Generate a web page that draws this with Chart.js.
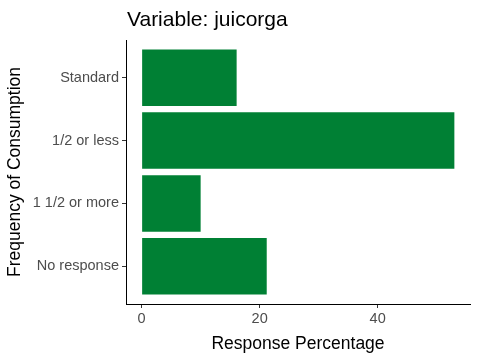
<!DOCTYPE html>
<html>
<head>
<meta charset="utf-8">
<script src="https://cdn.jsdelivr.net/npm/chart.js@4"></script>
<style>
  html, body { margin: 0; padding: 0; background: #fff; }
  #wrap { width: 480px; height: 360px; }
</style>
</head>
<body>
<div id="wrap"><canvas id="juicechart" width="480" height="360"></canvas></div>
<script>
var categories = ["Standard", "1/2 or less", "1 1/2 or more", "No response"];
var percentages = [16.1, 53.0, 10.0, 21.2];
var xTicks = [0, 20, 40];
var chartTitle = "Variable: juicorga";

Chart.defaults.font.family = "'Liberation Sans', Arial, sans-serif";
Chart.defaults.color = "#4d4d4d";

// ggplot-style title, left aligned with the plot panel
var titlePlugin = {
  id: "leftTitle",
  afterDraw: function (chart) {
    var ctx = chart.ctx;
    ctx.save();
    ctx.fillStyle = "#000";
    ctx.font = "21px 'Liberation Sans', Arial, sans-serif";
    ctx.textBaseline = "middle";
    ctx.textAlign = "left";
    ctx.fillText(chartTitle, chart.chartArea.left + 1, 20);
    ctx.restore();
  }
};

var barData = percentages.map(function (v, i) {
  return { x: v, y: i + 1 };
});

new Chart(document.getElementById("juicechart"), {
  type: "bar",
  data: {
    datasets: [{
      data: barData,
      backgroundColor: "rgb(0,128,52)",
      borderWidth: 0,
      categoryPercentage: 0.9,
      barPercentage: 1.0
    }]
  },
  options: {
    indexAxis: "y",
    responsive: false,
    animation: false,
    layout: { padding: { left: 5, right: 10, top: 40, bottom: 5 } },
    plugins: {
      legend: { display: false },
      tooltip: { enabled: false }
    },
    scales: {
      x: {
        type: "linear",
        min: -2.65,
        max: 55.65,
        afterBuildTicks: function (axis) {
          axis.ticks = xTicks.map(function (v) { return { value: v }; });
        },
        afterFit: function (axis) { axis.height = 51; },
        grid: { drawOnChartArea: false, drawTicks: true, tickLength: 4, color: "#333" },
        border: { display: true, color: "#000", width: 1 },
        ticks: { font: { size: 14.5 }, color: "#4d4d4d", padding: 2, maxRotation: 0 },
        title: {
          display: true,
          text: "Response Percentage",
          color: "#000",
          font: { size: 17.5 },
          padding: { top: 0, bottom: 0 }
        }
      },
      y: {
        type: "linear",
        reverse: true,
        offset: false,
        min: 0.4,
        max: 4.6,
        afterBuildTicks: function (axis) {
          axis.ticks = categories.map(function (c, i) { return { value: i + 1 }; });
        },
        afterFit: function (axis) { axis.width = 121; },
        grid: { offset: false, drawOnChartArea: false, drawTicks: true, tickLength: 4, color: "#333" },
        border: { display: true, color: "#000", width: 1 },
        ticks: {
          font: { size: 14.5 },
          color: "#4d4d4d",
          padding: 3,
          callback: function (v) { return categories[v - 1]; }
        },
        title: {
          display: true,
          text: "Frequency of Consumption",
          color: "#000",
          font: { size: 17.5 },
          padding: { top: 0, bottom: 2 }
        }
      }
    }
  },
  plugins: [titlePlugin]
});
</script>
</body>
</html>
